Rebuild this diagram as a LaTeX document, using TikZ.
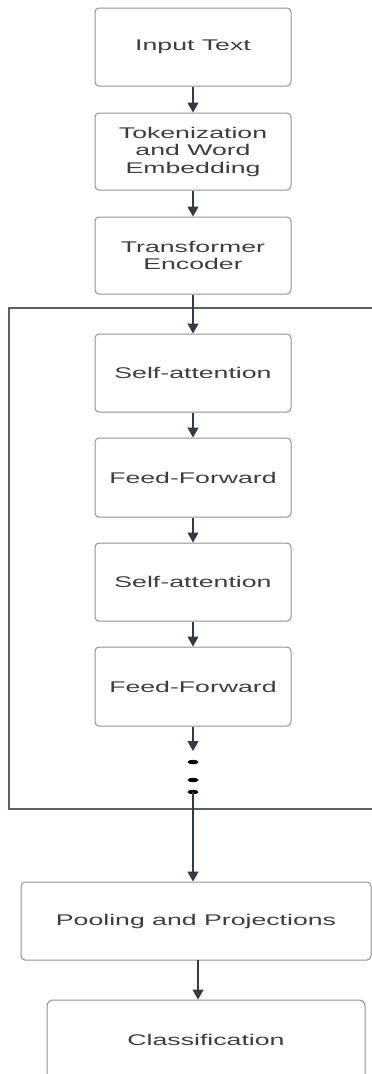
\documentclass[tikz,border=0pt]{standalone}
\usepackage{graphicx}
\usepackage{fontspec}
\setmainfont{Liberation Sans}
\usetikzlibrary{arrows.meta,shapes.geometric}
\definecolor{boxgray}{HTML}{8E9195}
\definecolor{framec}{HTML}{5C6066}
\definecolor{arrc}{HTML}{343A44}
\definecolor{txt}{HTML}{3A3E45}
\newcommand\sx[1]{\scalebox{1.72}[1]{#1}}
\newcommand\boxfont{\fontsize{15.5}{17.5}\selectfont}
\begin{document}
\begin{tikzpicture}[x=1pt,y=-1pt,
  box/.style={draw=boxgray, line width=1pt, rounded corners=4pt, minimum width=196pt,
    inner sep=0pt, align=center, font=\boxfont, text=txt},
  arr/.style={draw=arrc, line width=1.2pt, -{Triangle[width=11pt,length=10pt]}},
  frame/.style={draw=framec, line width=1.1pt},
  dotn/.style={ellipse, fill=black, minimum width=11pt, minimum height=4.5pt, inner sep=0pt}]
\useasboundingbox (0,0) rectangle (372,1074);
\clip (0,0) rectangle (372,1074);
\fill[white] (0,0) rectangle (372,1074);
% outer frame
\coordinate (ftr) at (373,308);
\coordinate (ftl) at (9,308);
\coordinate (fbl) at (9,809);
\coordinate (fbr) at (373,809);
\draw[frame] (ftr) -- (ftl) -- (fbl) -- (fbr);
% boxes
\node[box, minimum height=78pt] (inp) at (193,47) {\sx{Input Text}};
\node[box, minimum height=77pt] (tok) at (193,151.5) {\sx{Tokenization}\\\sx{and Word}\\\sx{Embedding}};
\node[box, minimum height=77pt] (enc) at (193,255.5) {\sx{Transformer}\\\sx{Encoder}};
\node[box, minimum height=78pt] (sa1) at (193,373) {\sx{Self-attention}};
\node[box, minimum height=79pt] (ff1) at (193,477.5) {\sx{Feed-Forward}};
\node[box, minimum height=78pt] (sa2) at (193,582) {\sx{Self-attention}};
\node[box, minimum height=79pt] (ff2) at (193,686.5) {\sx{Feed-Forward}};
\node[box, minimum height=78pt, minimum width=350pt] (pool) at (196,921) {\sx{Pooling and Projections}};
\node[box, minimum height=86pt, minimum width=318pt, rounded corners=6pt] (cls) at (206,1043) {\raisebox{6pt}{\sx{Classification}}};
% dots
\node[dotn] (d1) at (193,762) {};
\node[dotn] (d2) at (193,780) {};
\node[dotn] (d3) at (193,792) {};
\coordinate (ffend) at (193,751);
\coordinate (pa) at (198,960);
% arrows
\draw[arr] (inp.south) -- (tok.north);
\draw[arr] (tok.south) -- (enc.north);
\draw[arr] (enc.south) -- (sa1.north);
\draw[arr] (sa1.south) -- (ff1.north);
\draw[arr] (ff1.south) -- (sa2.north);
\draw[arr] (sa2.south) -- (ff2.north);
\draw[arr] (ff2.south) -- (ffend);
\draw[arr] (d3.center) -- (d3.center |- pool.north);
\draw[arr] (pa) -- (pa |- cls.north);
\end{tikzpicture}
\end{document}
